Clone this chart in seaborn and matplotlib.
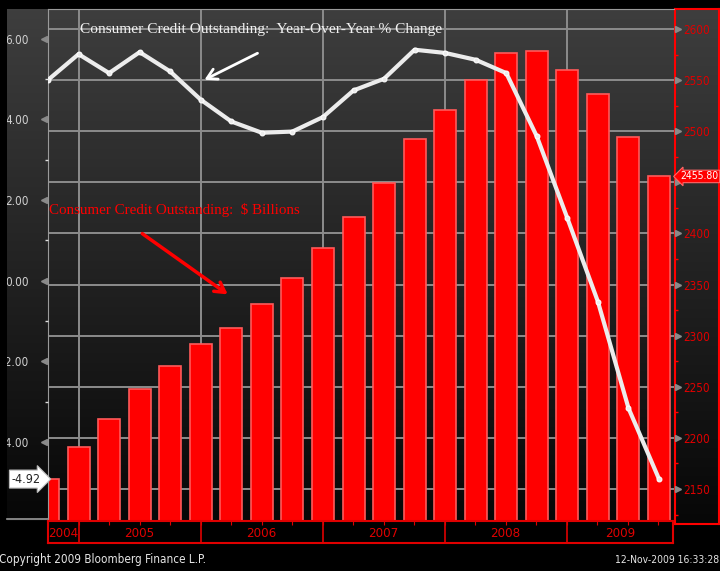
import numpy as np
import pandas as pd
import matplotlib
matplotlib.use("Agg")
import matplotlib.pyplot as plt
import seaborn as sns
from matplotlib import font_manager
from matplotlib.colors import LinearSegmentedColormap
from matplotlib.transforms import Bbox, TransformedBbox, blended_transform_factory

# ---------------- data ----------------
quarters = ["2004Q3", "2004Q4",
            "2005Q1", "2005Q2", "2005Q3", "2005Q4",
            "2006Q1", "2006Q2", "2006Q3", "2006Q4",
            "2007Q1", "2007Q2", "2007Q3", "2007Q4",
            "2008Q1", "2008Q2", "2008Q3", "2008Q4",
            "2009Q1", "2009Q2", "2009Q3"]
credit_billions = [2160.0, 2191.4, 2218.5, 2247.6, 2270.4, 2291.9,
                   2307.5, 2331.0, 2356.5, 2385.8, 2416.0, 2449.4,
                   2492.5, 2520.8, 2550.2, 2576.3, 2578.9, 2560.0,
                   2536.5, 2494.5, 2455.80]
yoy_pct = [4.98, 5.62, 5.15, 5.67, 5.19, 4.49, 3.95, 3.67, 3.70, 4.06,
           4.72, 5.01, 5.73, 5.65, 5.48, 5.15, 3.58, 1.55, -0.52, -3.16,
           -4.92]
years = ["2004", "2005", "2006", "2007", "2008", "2009"]
right_ticks = [2150, 2200, 2250, 2300, 2350, 2400, 2450, 2500, 2550, 2600]
right_tick_labels = ["2150", "2200", "2250", "2300", "2350", "2400", "", "2500", "2550", "2600"]
left_ticks = [-4, -2, 0, 2, 4, 6]
left_tick_labels = ["-4.00", "-2.00", "0.00", "2.00", "4.00", "6.00"]
last_credit_label = "2455.80"
last_yoy_label = "-4.92"
title_yoy = "Consumer Credit Outstanding:  Year-Over-Year % Change"
title_credit = "Consumer Credit Outstanding:  $ Billions"
footer_left = "Copyright 2009 Bloomberg Finance L.P."
footer_right = "12-Nov-2009 16:33:28"

df = pd.DataFrame({"quarter": quarters, "credit": credit_billions,
                   "yoy": yoy_pct, "pos": np.arange(len(quarters))})

# ---------------- fonts ----------------
def pick_narrow():
    try:
        p = font_manager.findfont(font_manager.FontProperties(family="Liberation Sans Narrow"),
                                  fallback_to_default=False)
        if "Narrow" in p:
            return dict(family=["Liberation Sans Narrow", "DejaVu Sans"])
    except Exception:
        pass
    try:
        p = font_manager.findfont(font_manager.FontProperties(family="DejaVu Sans", stretch="condensed"),
                                  fallback_to_default=False)
        if "Condensed" in p:
            return dict(family=["DejaVu Sans"], fontstretch="condensed")
    except Exception:
        pass
    return dict(family=["Liberation Sans", "DejaVu Sans"])

NARROW = pick_narrow()
SERIF = ["Liberation Serif", "DejaVu Serif"]

# ---------------- layout helpers ----------------
W, H = 720, 571
fig = plt.figure(figsize=(W / 100, H / 100), dpi=100, facecolor="black")

def fx(px):
    return px / W

def fy(py):
    return 1 - py / H

def fit_width(t, target_px):
    r = fig.canvas.get_renderer()
    w = t.get_window_extent(renderer=r).width
    t.set_fontsize(t.get_fontsize() * target_px / w)

grad = np.linspace(0, 1, 256).reshape(-1, 1)
gcmap = LinearSegmentedColormap.from_list("g", ["#3e3e3e", "#070707"])

PLOT_L, PLOT_R, PLOT_T, PLOT_B = 48, 674, 9, 521

# background gradient behind plot + left axis strip
bg = fig.add_axes([fx(7), fy(PLOT_B), fx(PLOT_R - 7), (PLOT_B - PLOT_T) / H], zorder=0)
bg.imshow(grad, aspect="auto", cmap=gcmap, extent=[0, 1, 0, 1], origin="upper")
bg.set_axis_off()
fig.add_artist(plt.Line2D([fx(7), fx(PLOT_L)], [fy(519), fy(519)], color="#9a9a9a", lw=1.2))

# right axis panel with red frame
rp = fig.add_axes([fx(675), fy(524), fx(44), (524 - PLOT_T) / H], zorder=0)
rp.imshow(grad, aspect="auto", cmap=gcmap, extent=[0, 1, 0, 1], origin="upper")
rp.set_xticks([]); rp.set_yticks([])
for s in rp.spines.values():
    s.set_color("#ff0000"); s.set_linewidth(1.5)

# ---------------- main axes: bars (right scale) ----------------
ax = fig.add_axes([fx(PLOT_L), fy(PLOT_B), fx(PLOT_R - PLOT_L), (PLOT_B - PLOT_T) / H], zorder=2)
ax.patch.set_alpha(0)
sns.barplot(data=df, x="quarter", y="credit", color="#ff0000", saturation=1,
            width=0.72, edgecolor="#ff5a5a", linewidth=1.2, ax=ax, zorder=2)
ax.set_xlabel(""); ax.set_ylabel("")
xmax = len(quarters) - 1 + 0.49

# ---------------- twin axes: YoY line (left scale) ----------------
ax2 = ax.twinx()
ax2.set_zorder(3)
sns.lineplot(data=df, x="pos", y="yoy", ax=ax2, color="#ececec", lw=3,
             marker="o", markersize=3.5, markeredgecolor="#ffffff")
ax2.set_xlabel(""); ax2.set_ylabel("")

# ---- host (bars) axis formatting, done after twinx ----
ax.set_ylim(2118.7, 2619.6)
ax.set_xlim(0, xmax)
boundaries = [i for i, q in enumerate(quarters) if q.endswith("Q4")]
ax.set_xticks(boundaries)
ax.set_xticklabels([])
ax.tick_params(axis="x", length=0)
ax.yaxis.tick_right()
ax.yaxis.set_label_position("right")
ax.set_yticks(right_ticks)
ax.set_yticklabels(right_tick_labels, color="#e00000", fontsize=8.5, **NARROW)
ax.set_yticks([t + 25 for t in right_ticks[:-1]] + [right_ticks[0] - 25], minor=True)
ax.tick_params(axis="y", which="major", left=False, right=True, length=0, pad=7,
               labelleft=False, labelright=True)
ax.tick_params(axis="y", which="minor", left=False, right=True, length=3, width=1,
               color="#ff0000", direction="out")
ax.grid(True, color="#8c8c8c", lw=1.4, zorder=0)
ax.set_axisbelow(True)
for side in ["right", "bottom"]:
    ax.spines[side].set_visible(False)
ax.spines["left"].set_color("#9a9a9a")
ax.spines["top"].set_color("#9a9a9a")
tr_r = blended_transform_factory(ax.transAxes, ax.transData)
ax.plot([1.0 + 4 / 626] * len(right_ticks), right_ticks, ls="none", marker=">",
        color="#8a8a8a", markersize=5, transform=tr_r, clip_on=False)

# ---- twin (line) axis formatting ----
ax2.set_ylim(-5.96, 6.74)
ax2.set_xlim(0, xmax)
ax2.yaxis.tick_left()
ax2.yaxis.set_label_position("left")
ax2.set_yticks(left_ticks)
ax2.set_yticklabels(left_tick_labels, color="#d0d0d0", fontsize=8.5, **NARROW)
ax2.set_yticks([t + 1 for t in left_ticks[:-1]], minor=True)
ax2.tick_params(axis="y", which="major", length=0, pad=19 * 0.72,
                labelleft=True, labelright=False, right=False)
ax2.tick_params(axis="y", which="minor", left=True, right=False, length=2, width=1,
                color="#dddddd")
for s in ax2.spines.values():
    s.set_visible(False)
tr_l = blended_transform_factory(ax2.transAxes, ax2.transData)
ax2.plot([-4 / 626] * len(left_ticks), left_ticks, ls="none", marker="<",
         color="#8a8a8a", markersize=5, transform=tr_l, clip_on=False)
clipbox = TransformedBbox(Bbox([[fx(7), 0], [1, 1]]), fig.transFigure)
for lab in ax2.get_yticklabels():
    lab.set_clip_box(clipbox)
    lab.set_clip_on(True)

# last-value tags
ax2.annotate(last_yoy_label, xy=(0, yoy_pct[-1]), xycoords=tr_l,
             xytext=(-5, 0), textcoords="offset points", ha="right", va="center",
             fontsize=9, color="#222222",
             bbox=dict(boxstyle="rarrow,pad=0.2", fc="white", ec="#bbbbbb", lw=0.8),
             annotation_clip=False, **NARROW)
ax.annotate(last_credit_label, xy=(1, credit_billions[-1]), xycoords=tr_r,
            xytext=(4.5, 0), textcoords="offset points", ha="left", va="center",
            fontsize=7.5, color="white",
            bbox=dict(boxstyle="larrow,pad=0.12", fc="#ff0000", ec="#ff6a6a", lw=0.8),
            annotation_clip=False, **NARROW)

# ---------------- x band with years ----------------
xb = fig.add_axes([fx(PLOT_L), fy(543), fx(PLOT_R - 1 - PLOT_L), 22 / H], zorder=2)
xb.set_facecolor("black")
xb.set_xlim(0, xmax)
xb.set_ylim(0, 1)
for s in xb.spines.values():
    s.set_color("#e00000"); s.set_linewidth(1.5)
xb.set_yticks([])
xb.set_xticks(list(range(len(quarters))))
xb.set_xticklabels([])
xb.tick_params(axis="x", bottom=False, top=True, direction="in", length=3, color="#e00000")
edges = [0] + boundaries + [xmax]
for b in boundaries:
    xb.axvline(b, color="#e00000", lw=1.2)
for yr, a, b in zip(years, edges[:-1], edges[1:]):
    xb.text((a + b) / 2, 0.45, yr, ha="center", va="center", color="#e00000",
            fontsize=9.5, **NARROW)

# ---------------- annotations ----------------
t1 = fig.text(fx(80), fy(30), title_yoy, color="#f2f2f2", family=SERIF,
              fontsize=12, ha="left", va="center")
t2 = fig.text(fx(49), fy(210), title_credit, color="#ff0000", family=SERIF,
              fontsize=12, ha="left", va="center")
fit_width(t1, 360)
fit_width(t2, 249)

fig.add_artist(matplotlib.patches.FancyArrowPatch(
    (fx(260), fy(52)), (fx(202), fy(81)), transform=fig.transFigure,
    arrowstyle="->,head_length=7,head_width=4", color="white", lw=2, zorder=5))
fig.add_artist(matplotlib.patches.FancyArrowPatch(
    (fx(140), fy(232)), (fx(230), fy(296)), transform=fig.transFigure,
    arrowstyle="->,head_length=7,head_width=4", color="#ff0000", lw=2.5, zorder=5))

# footer
f1 = fig.text(fx(-1), fy(560), footer_left, color="#e6e6e6", fontsize=10,
              ha="left", va="center", **NARROW)
f2 = fig.text(fx(719), fy(560), footer_right, color="#e6e6e6", fontsize=10,
              ha="right", va="center", **NARROW)
fit_width(f1, 205)
fit_width(f2, 104)

fig.savefig("out.png", dpi=100, facecolor="black")
